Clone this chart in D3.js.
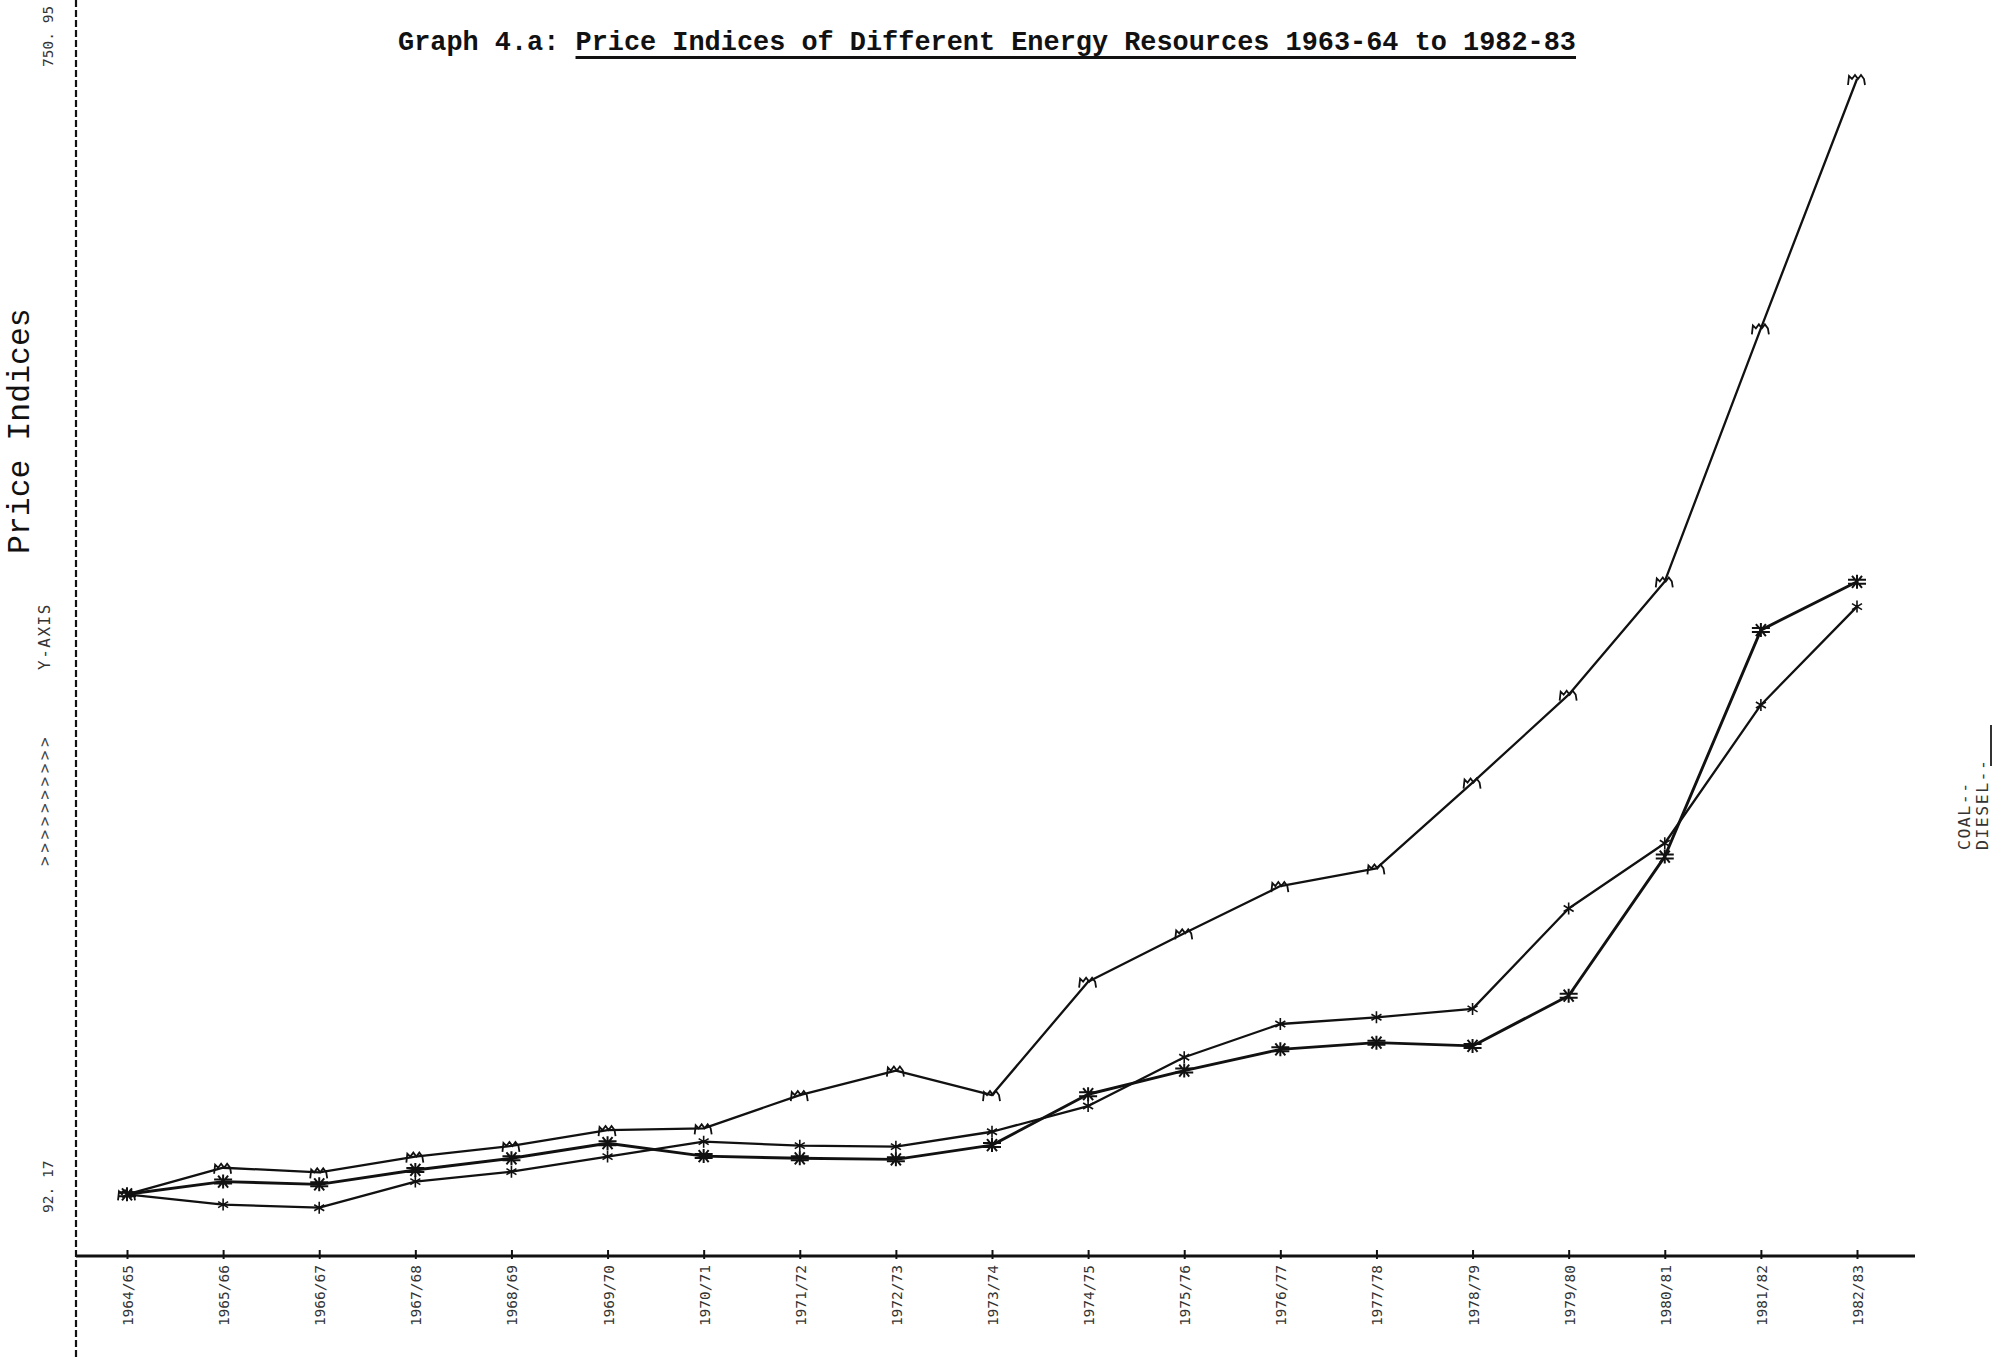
<!DOCTYPE html>
<html>
<head>
<meta charset="utf-8">
<script src="https://cdn.jsdelivr.net/npm/d3@7"></script>
<style>
  html, body { margin: 0; padding: 0; background: #fff; }
  svg { display: block; }
</style>
</head>
<body>
<svg id="chart" width="1995" height="1360"></svg>
<script>
// Fiscal years on the horizontal axis
const years = ["1964/65","1965/66","1966/67","1967/68","1968/69","1969/70","1970/71",
  "1971/72","1972/73","1973/74","1974/75","1975/76","1976/77","1977/78","1978/79",
  "1979/80","1980/81","1981/82","1982/83"];

// Price index series (base 1964/65 = 100), one array per plotted curve
const seriesM    = [100, 115.5, 112.8, 122.0, 128.2, 137.5, 138.5, 157.9, 172.2, 157.9,
  224.1, 252.3, 279.9, 290.2, 340.3, 391.6, 457.7, 605.4, 750.95];
const seriesHash = [100, 107.4, 105.8, 114.2, 121.0, 129.8, 122.3, 121.0, 120.4, 128.7,
  158.4, 172.2, 184.6, 188.5, 186.6, 215.9, 297.1, 429.3, 457.5];
const seriesStar = [100, 94.0, 92.17, 107.4, 113.2, 122.0, 130.7, 128.4, 127.8, 136.5,
  151.5, 180.0, 199.4, 203.3, 208.2, 266.8, 304.9, 385.6, 443.0];

// Legend entries printed at the right margin
const legendLabels = ["COAL--", "DIESEL--"];

const titlePrefix = "Graph 4.a: ";
const titleMain = "Price Indices of Different Energy Resources 1963-64 to 1982-83";
const yTitle = "Price Indices";

const svg = d3.select("#chart");
const ink = "#111";
const dotFont = "'DejaVu Sans Mono', monospace";
const typeFont = "'Liberation Mono', 'Courier New', monospace";

svg.append("rect").attr("width", 1995).attr("height", 1360).attr("fill", "#fff");

const allVals = seriesM.concat(seriesHash, seriesStar);
const vMin = d3.min(allVals), vMax = d3.max(allVals);

const x = d3.scalePoint().domain(years).range([127, 1857]);
const y = d3.scaleLinear().domain([vMin, vMax]).range([1207.7, 79]);

const axisY = 1256;
const leftX = 76;

// dashed vertical axis running the full page height
svg.append("line")
  .attr("x1", leftX).attr("x2", leftX).attr("y1", 0).attr("y2", 1360)
  .attr("stroke", ink).attr("stroke-width", 2.2).attr("stroke-dasharray", "7 3");

// horizontal axis with rotated fiscal-year labels
const xAxis = d3.axisBottom(x).tickSize(0).tickPadding(0);
const gx = svg.append("g").attr("transform", `translate(0,${axisY})`).call(xAxis);
gx.select(".domain").remove();
gx.selectAll(".tick line").remove();
gx.selectAll(".tick").append("line")
  .attr("y1", -6).attr("y2", 3).attr("stroke", ink).attr("stroke-width", 2);
gx.selectAll(".tick text")
  .attr("transform", "rotate(-90)")
  .attr("text-anchor", "end")
  .attr("x", -9).attr("y", 5.5).attr("dy", 0)
  .attr("font-family", dotFont).attr("font-size", 14.5)
  .attr("fill", "#333");

svg.append("line")
  .attr("x1", leftX).attr("x2", 1915).attr("y1", axisY).attr("y2", axisY)
  .attr("stroke", ink).attr("stroke-width", 3.2);

// y extent labels (min and max of the plotted data)
const fmt = v => d3.format(".2f")(v).replace(".", ". ");
[[vMax, 67], [vMin, 1213]].forEach(([v, yy]) => {
  svg.append("text")
    .attr("transform", `translate(53,${yy}) rotate(-90)`)
    .attr("text-anchor", "start")
    .attr("font-family", dotFont).attr("font-size", 14.5)
    .attr("fill", "#333")
    .text(fmt(v));
});

// rotated y-axis captions
svg.append("text")
  .attr("transform", "translate(29,554) rotate(-90)")
  .attr("font-family", typeFont).attr("font-size", 31.5)
  .attr("fill", ink)
  .text(yTitle);

svg.append("text")
  .attr("transform", "translate(50,670) rotate(-90)")
  .attr("font-family", dotFont).attr("font-size", 16)
  .attr("letter-spacing", 1.5)
  .attr("fill", "#333")
  .text("Y-AXIS");

svg.append("text")
  .attr("transform", "translate(50,866) rotate(-90)")
  .attr("font-family", dotFont).attr("font-size", 16)
  .attr("letter-spacing", 3.6)
  .attr("fill", "#444")
  .text(">>>>>>>>>>");

// title: prefix plus underlined main part
const titleSize = 26.9;
const tPre = svg.append("text")
  .attr("x", 398).attr("y", 50)
  .attr("font-family", typeFont).attr("font-weight", "bold").attr("font-size", titleSize)
  .attr("fill", ink).style("white-space", "pre").text(titlePrefix);
const preLen = tPre.node().getComputedTextLength();
const tMain = svg.append("text")
  .attr("x", 398 + preLen).attr("y", 50)
  .attr("font-family", typeFont).attr("font-weight", "bold").attr("font-size", titleSize)
  .attr("fill", ink).text(titleMain);
const mainLen = tMain.node().getComputedTextLength();
svg.append("line")
  .attr("x1", 398 + preLen).attr("x2", 398 + preLen + mainLen)
  .attr("y1", 57.5).attr("y2", 57.5)
  .attr("stroke", ink).attr("stroke-width", 3);

// marker shapes
const markerM = "M-9,6 L-8,-3 L-5,0 L-2,-4 L1,0 L4,-4 L7,0 L8,6";
const markerHash = "M-9,-2 L9,-2 M-9,2 L9,2 M-5,-6 L5,6 M-5,6 L5,-6 M0,-7 L0,7";
const markerStar = "M0,-6 L0,6 M-5,-3 L5,3 M-5,3 L5,-3";

const series = [
  { values: seriesStar, width: 2.3, marker: markerStar, mw: 1.6 },
  { values: seriesHash, width: 2.9, marker: markerHash, mw: 2.0 },
  { values: seriesM,    width: 2.3, marker: markerM,    mw: 1.8 }
];

const line = d3.line()
  .x((d, i) => x(years[i]))
  .y(d => y(d));

series.forEach(s => {
  svg.append("path")
    .datum(s.values)
    .attr("d", line)
    .attr("fill", "none")
    .attr("stroke", ink)
    .attr("stroke-width", s.width)
    .attr("stroke-linejoin", "round");
  svg.append("g").selectAll("path")
    .data(s.values)
    .join("path")
    .attr("transform", (d, i) => `translate(${x(years[i])},${y(d)})`)
    .attr("d", s.marker)
    .attr("fill", "none")
    .attr("stroke", ink)
    .attr("stroke-width", s.mw);
});

// legend text at the right edge
const legendPos = [[1970, 850], [1988, 850]];
legendLabels.forEach((t, i) => {
  svg.append("text")
    .attr("transform", `translate(${legendPos[i][0]},${legendPos[i][1]}) rotate(-90)`)
    .attr("font-family", dotFont).attr("font-size", 16.5)
    .attr("letter-spacing", 1.5)
    .attr("fill", "#333")
    .text(t);
});
svg.append("line")
  .attr("x1", 1991).attr("x2", 1991).attr("y1", 766).attr("y2", 725)
  .attr("stroke", "#333").attr("stroke-width", 2);
</script>
</body>
</html>
